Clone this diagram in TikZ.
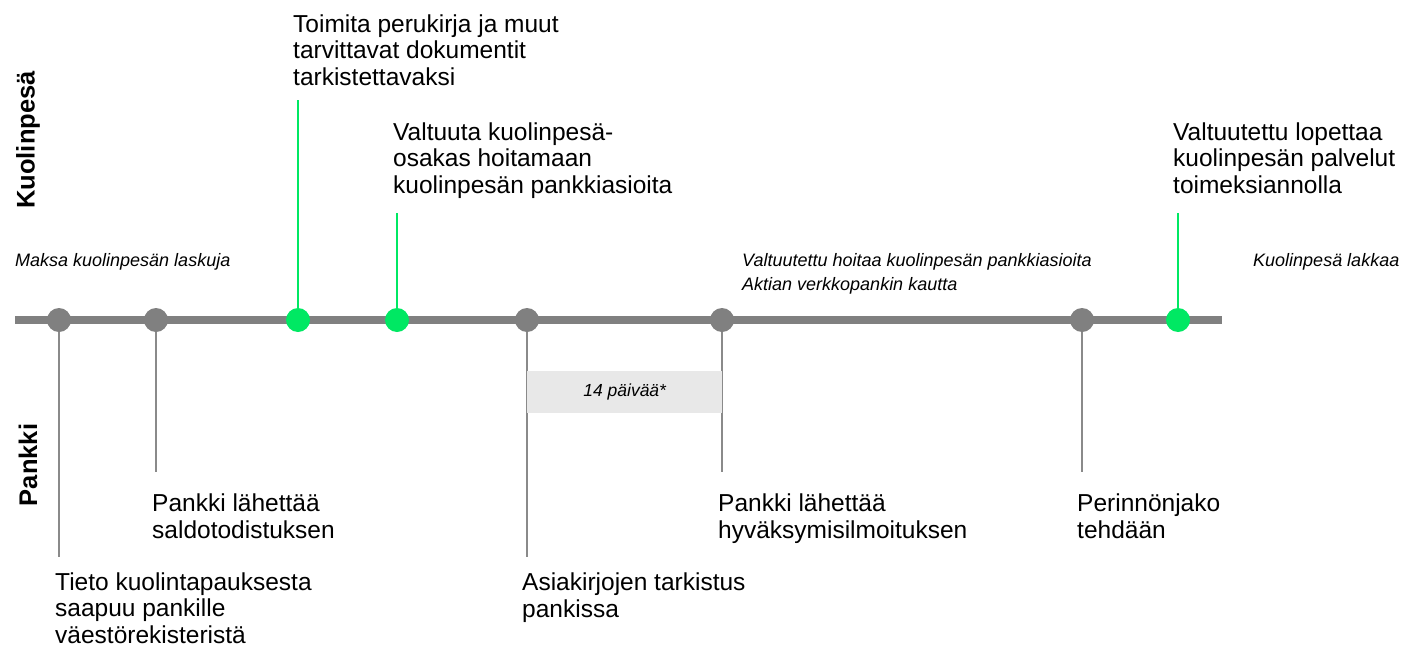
\documentclass[tikz,border=0pt]{standalone}
\usepackage{fontspec}
\setmainfont{Liberation Sans}
\usetikzlibrary{backgrounds}
\definecolor{tlgray}{HTML}{808080}
\definecolor{cgray}{HTML}{8A8A8A}
\definecolor{tlgreen}{HTML}{00E863}
\definecolor{boxgray}{HTML}{E8E8E8}
\begin{document}
\begin{tikzpicture}[x=1pt,y=-1pt,
  big/.style={font=\fontsize{24.5}{26.5}\selectfont, align=left, anchor=base west, inner sep=0pt},
  ital/.style={font=\fontsize{18}{24}\selectfont\itshape, align=left, anchor=base west, inner sep=0pt},
  lane/.style={font=\fontsize{25.5}{28}\selectfont\bfseries, rotate=90, inner sep=0pt},
  dotg/.style={circle, fill=tlgray, minimum size=24pt, inner sep=0pt},
  dotgr/.style={circle, fill=tlgreen, minimum size=24pt, inner sep=0pt},
  cg/.style={draw=cgray, line width=2pt},
  cgr/.style={draw=tlgreen, line width=2pt},
  mainline/.style={draw=tlgray, line width=8pt}]
\useasboundingbox (0,0) rectangle (1403,648);
% lane labels
\node[lane] (lk) at (28,140) {Kuolinpesä};
\node[lane] (lp) at (28,465) {Pankki};
% gray box
\node[fill=boxgray, minimum width=195pt, minimum height=42pt, inner sep=0pt, anchor=north west,
  font=\fontsize{17.5}{20}\selectfont\itshape] (box) at (527,371) {14 päivää*};
% coordinates for free ends
\coordinate (e1) at (59,557);
\coordinate (e2) at (156,472);
\coordinate (e3) at (298,100);
\coordinate (e4) at (397,213);
\coordinate (e5) at (527,557);
\coordinate (e6) at (722,472);
\coordinate (e7) at (1082,472);
\coordinate (e8) at (1178,213);
\coordinate (ls) at (15,320);
\coordinate (le) at (1222,320);
% dots
\node[dotg] (d1) at (59,320) {};
\node[dotg] (d2) at (156,320) {};
\node[dotgr] (d3) at (298,320) {};
\node[dotgr] (d4) at (397,320) {};
\node[dotg] (d5) at (527,320) {};
\node[dotg] (d6) at (722,320) {};
\node[dotg] (d7) at (1082,320) {};
\node[dotgr] (d8) at (1178,320) {};
% connectors and main line behind dots
\begin{scope}[on background layer]
\draw[cg] (d1.center) -- (e1);
\draw[cg] (d2.center) -- (e2);
\draw[cgr] (d3.center) -- (e3);
\draw[cgr] (d4.center) -- (e4);
\draw[cg] (d5.center) -- (e5);
\draw[cg] (d6.center) -- (e6);
\draw[cg] (d7.center) -- (e7);
\draw[cgr] (d8.center) -- (e8);
\draw[mainline] (ls) -- (le);
\end{scope}
% texts above
\node[big] (t3) at (293,85) {Toimita perukirja ja muut\\tarvittavat dokumentit\\tarkistettavaksi};
\node[big] (t4) at (393,193) {Valtuuta kuolinpesä-\\osakas hoitamaan\\kuolinpesän pankkiasioita};
\node[big] (t8) at (1173,193) {Valtuutettu lopettaa\\kuolinpesän palvelut\\toimeksiannolla};
% italic
\node[ital] (i1) at (15,266) {Maksa kuolinpesän laskuja};
\node[ital] (i2) at (742,290) {Valtuutettu hoitaa kuolinpesän pankkiasioita\\Aktian verkkopankin kautta};
\node[ital] (i3) at (1253,266) {Kuolinpesä lakkaa};
% texts below
\node[big] (t2) at (152,538) {Pankki lähettää\\saldotodistuksen};
\node[big] (t6) at (718,538) {Pankki lähettää\\hyväksymisilmoituksen};
\node[big] (t7) at (1077,538) {Perinnönjako\\tehdään};
\node[big] (t1) at (55,643) {Tieto kuolintapauksesta\\saapuu pankille\\väestörekisteristä};
\node[big] (t5) at (522,617) {Asiakirjojen tarkistus\\pankissa};
\end{tikzpicture}
\end{document}
